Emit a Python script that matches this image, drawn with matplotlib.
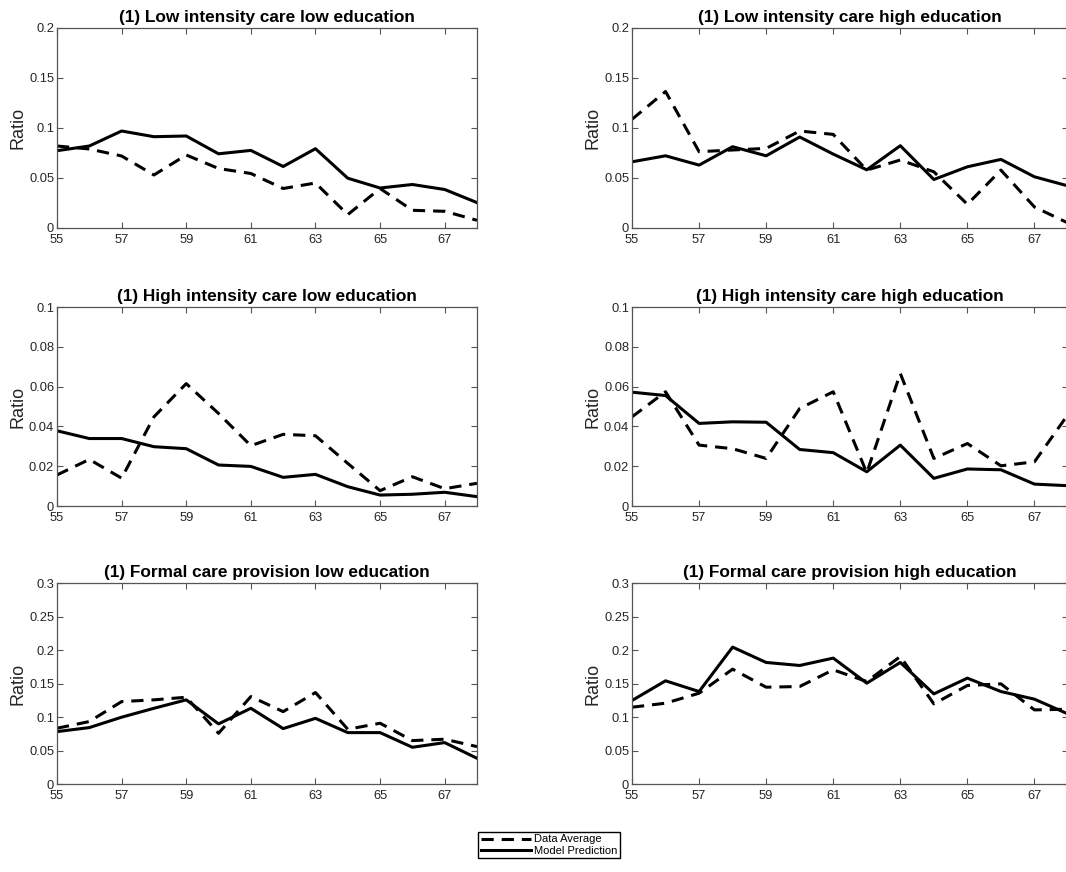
import matplotlib
matplotlib.use("Agg")
import matplotlib.pyplot as plt
from matplotlib.ticker import FuncFormatter

plt.rcParams['font.family'] = ['Liberation Sans', 'DejaVu Sans']

ages = [55, 56, 57, 58, 59, 60, 61, 62, 63, 64, 65, 66, 67, 68]

titles = [
    '(1) Low intensity care low education',
    '(1) Low intensity care high education',
    '(1) High intensity care low education',
    '(1) High intensity care high education',
    '(1) Formal care provision low education',
    '(1) Formal care provision high education',
]

# data averages (dashed)
low_int_low_data = [0.082, 0.079, 0.072, 0.053, 0.073, 0.0595, 0.0545, 0.0395, 0.045, 0.0134, 0.0395, 0.0177, 0.0167, 0.0077]
low_int_high_data = [0.1087, 0.1365, 0.0763, 0.078, 0.0796, 0.097, 0.0936, 0.0579, 0.068, 0.0562, 0.0237, 0.0579, 0.021, 0.005]
high_int_low_data = [0.0156, 0.0234, 0.014, 0.0448, 0.0615, 0.0465, 0.0303, 0.036, 0.0353, 0.0214, 0.0077, 0.0147, 0.0087, 0.0114]
high_int_high_data = [0.0448, 0.0574, 0.0306, 0.0288, 0.0239, 0.049, 0.0574, 0.0167, 0.0666, 0.0239, 0.0314, 0.0202, 0.0222, 0.046]
formal_low_data = [0.0832, 0.0932, 0.123, 0.1256, 0.1295, 0.0757, 0.1305, 0.108, 0.1365, 0.0817, 0.0907, 0.0648, 0.0668, 0.0558]
formal_high_data = [0.1146, 0.1206, 0.1355, 0.1714, 0.1445, 0.1455, 0.1704, 0.153, 0.1903, 0.1196, 0.147, 0.1495, 0.1106, 0.1116]

# model predictions (solid)
low_int_low_model = [0.0773, 0.082, 0.097, 0.0913, 0.092, 0.0742, 0.0776, 0.0615, 0.0793, 0.0498, 0.040, 0.0435, 0.0385, 0.0254]
low_int_high_model = [0.0662, 0.0722, 0.0629, 0.0813, 0.0722, 0.091, 0.0739, 0.0582, 0.0823, 0.0485, 0.0612, 0.0686, 0.0512, 0.0421]
high_int_low_model = [0.0378, 0.0339, 0.0339, 0.0298, 0.0288, 0.0206, 0.0199, 0.0144, 0.0159, 0.0097, 0.0055, 0.0059, 0.0069, 0.0047]
high_int_high_model = [0.0572, 0.0555, 0.0415, 0.0423, 0.0421, 0.0284, 0.0268, 0.0172, 0.0306, 0.0139, 0.0186, 0.0182, 0.011, 0.0102]
formal_low_model = [0.0782, 0.0842, 0.0997, 0.113, 0.1256, 0.0897, 0.113, 0.0827, 0.098, 0.0767, 0.0767, 0.0548, 0.0618, 0.0384]
formal_high_model = [0.1246, 0.154, 0.138, 0.2043, 0.1814, 0.1769, 0.1879, 0.1505, 0.1814, 0.1345, 0.158, 0.138, 0.1266, 0.1046]

data_series = [low_int_low_data, low_int_high_data, high_int_low_data,
               high_int_high_data, formal_low_data, formal_high_data]
model_series = [low_int_low_model, low_int_high_model, high_int_low_model,
                high_int_high_model, formal_low_model, formal_high_model]

y_max = [0.2, 0.2, 0.1, 0.1, 0.3, 0.3]
y_step = [0.05, 0.05, 0.02, 0.02, 0.05, 0.05]

W, H = 1066, 872
fig = plt.figure(figsize=(W / 100, H / 100), dpi=100)

# axes boxes in pixels: (left, right) and (top, bottom)
cols = [(57, 477), (632, 1068)]
rows = [(28, 228), (307, 506), (583, 784)]

axis_color = '#555555'
text_color = '#262626'


def fmt(v, pos):
    return ('%.2f' % v).rstrip('0').rstrip('.') if v else '0'


for i in range(6):
    r, c = divmod(i, 2)
    x0, x1 = cols[c]
    y0, y1 = rows[r]
    ax = fig.add_axes([x0 / W, 1 - y1 / H, (x1 - x0) / W, (y1 - y0) / H])
    l1, = ax.plot(ages, data_series[i], color='black', lw=2.2,
                  linestyle=(0, (4, 2.6)), label='Data Average')
    l2, = ax.plot(ages, model_series[i], color='black', lw=2.2,
                  label='Model Prediction')
    ax.set_xlim(55, 68)
    ax.set_ylim(0, y_max[i])
    ax.set_xticks(range(55, 68, 2))
    n = int(round(y_max[i] / y_step[i]))
    ax.set_yticks([k * y_step[i] for k in range(n + 1)])
    ax.yaxis.set_major_formatter(FuncFormatter(fmt))
    ax.tick_params(direction='in', top=True, right=True, length=4, width=0.8,
                   color=axis_color, labelcolor=text_color, labelsize=9.3)
    ax.tick_params(axis='x', pad=4)
    ax.tick_params(axis='y', pad=2)
    for s in ax.spines.values():
        s.set_color(axis_color)
        s.set_linewidth(0.9)
    ax.set_ylabel('Ratio', fontsize=13, color=text_color, labelpad=2)
    ax.set_title(titles[i], fontsize=12.4, fontweight='bold', pad=4)

fig.legend([l1, l2], ['Data Average', 'Model Prediction'],
           loc='center', bbox_to_anchor=(549 / W, 1 - 845 / H),
           fontsize=8, fancybox=False, edgecolor='black', framealpha=1,
           handlelength=4.5, borderpad=0.2, labelspacing=0.1,
           handletextpad=0.3, borderaxespad=0)

fig.savefig('out.png', dpi=100)
